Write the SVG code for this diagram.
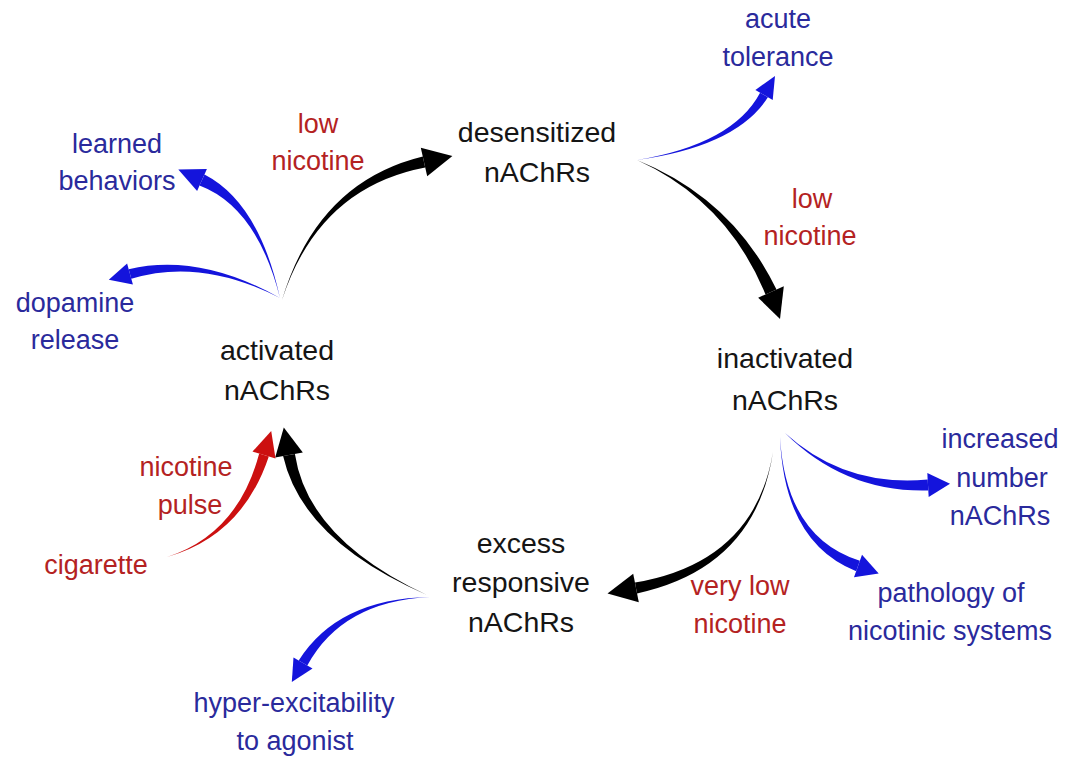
<svg xmlns="http://www.w3.org/2000/svg" width="1066" height="760" viewBox="0 0 1066 760">
<style>
text{font-family:"Liberation Sans",Arial,sans-serif;font-size:27px;text-anchor:middle}
.k{fill:#151515;font-size:28.5px}
.r{fill:#b42222}
.b{fill:#2a2a9c}
.ak{fill:#000}
.ab{fill:#1414dc}
.ar{fill:#cc1010}
</style>
<rect width="1066" height="760" fill="#fff"/>
<g id="connectors">
  <g class="ak">
    <path d="M282,300 Q318.6,187.7 425.2,167.4 L422.8,156.6 Q317.4,182.3 282,300 Z"/>
    <polygon points="452.4,155.9 427.2,176.2 420.8,147.8"/>
  </g>
  <g class="ak">
    <path d="M637,160 Q727.3,201.2 765.5,294.4 L776.5,289.6 Q732.7,198.8 637,160 Z"/>
    <polygon points="780,319 758.2,297.7 783.8,286.3"/>
  </g>
  <g class="ak">
    <path d="M773,452 Q754.5,562.3 635,582.6 L637,593.4 Q755.5,567.7 773,452 Z"/>
    <polygon points="607.5,593.5 633.2,573.8 638.8,602.2"/>
  </g>
  <g class="ak">
    <path d="M427,595 Q307.9,539.4 294.9,453.9 L283.1,456.1 Q302.1,540.6 427,595 Z"/>
    <polygon points="283.8,427.5 302.8,452.4 275.2,457.6"/>
  </g>
  <g class="ar">
    <path d="M167,557 Q242.4,535.7 268.8,456.4 L259.2,453.6 Q237.6,534.3 167,557 Z"/>
    <polygon points="271.2,431 275.5,458.4 252.5,451.6"/>
  </g>
  <g class="ab">
    <path d="M280,298 Q259,202.7 204.5,174.5 L199.5,185.5 Q257,207.3 280,298 Z"/>
    <polygon points="178.3,169.4 206.9,169 197.1,191"/>
  </g>
  <g class="ab">
    <path d="M280,298 Q199.3,252.6 128.7,269.2 L131.3,278.8 Q200.7,257.4 280,298 Z"/>
    <polygon points="108.8,279.8 127.1,263.4 132.9,284.6"/>
  </g>
  <g class="ab">
    <path d="M637,160 Q737,146.1 767.9,97.3 L760.1,92.7 Q733,143.9 637,160 Z"/>
    <polygon points="775,76 772.7,100 755.4,90"/>
  </g>
  <g class="ab">
    <path d="M785,433 Q845.2,492.7 928.3,490.5 L927.7,479.5 Q844.8,487.3 785,433 Z"/>
    <polygon points="950,483.7 928.7,497 927.3,473"/>
  </g>
  <g class="ab">
    <path d="M780,437 Q784.1,542.6 856.2,571.2 L859.8,560.8 Q785.9,537.4 780,437 Z"/>
    <polygon points="878.7,573.4 854,577.3 862,554.7"/>
  </g>
  <g class="ab">
    <path d="M430,597 Q337.8,598.7 298.7,660.5 L307.3,665.5 Q342.2,601.3 430,597 Z"/>
    <polygon points="291.8,682 293.5,657.4 312.5,668.6"/>
  </g>
</g>
<g id="desensitized"><text class="k" x="537" y="142">desensitized</text><text class="k" x="537" y="182">nAChRs</text></g>
<g id="activated"><text class="k" x="277" y="360">activated</text><text class="k" x="277" y="400">nAChRs</text></g>
<g id="inactivated"><text class="k" x="785" y="368">inactivated</text><text class="k" x="785" y="410">nAChRs</text></g>
<g id="excess"><text class="k" x="521" y="553">excess</text><text class="k" x="521" y="592">responsive</text><text class="k" x="521" y="632">nAChRs</text></g>
<g id="acute"><text class="b" x="778" y="28">acute</text><text class="b" x="778" y="66">tolerance</text></g>
<g id="learned"><text class="b" x="117" y="153">learned</text><text class="b" x="117" y="190">behaviors</text></g>
<g id="dopamine"><text class="b" x="75" y="312">dopamine</text><text class="b" x="75" y="349">release</text></g>
<g id="increased"><text class="b" x="1000" y="448">increased</text><text class="b" x="1002" y="487">number</text><text class="b" x="1000" y="525">nAChRs</text></g>
<g id="pathology"><text class="b" x="951" y="602">pathology of</text><text class="b" x="950" y="640">nicotinic systems</text></g>
<g id="hyper"><text class="b" x="294" y="712">hyper-excitability</text><text class="b" x="295" y="750">to agonist</text></g>
<g id="cigarette"><text class="r" x="96" y="574">cigarette</text></g>
<g id="label-low1"><text class="r" x="318" y="133">low</text><text class="r" x="318" y="170">nicotine</text></g>
<g id="label-low2"><text class="r" x="812" y="208">low</text><text class="r" x="810" y="245">nicotine</text></g>
<g id="label-verylow"><text class="r" x="740" y="595">very low</text><text class="r" x="740" y="633">nicotine</text></g>
<g id="label-pulse"><text class="r" x="186" y="476">nicotine</text><text class="r" x="190" y="514">pulse</text></g>
</svg>
